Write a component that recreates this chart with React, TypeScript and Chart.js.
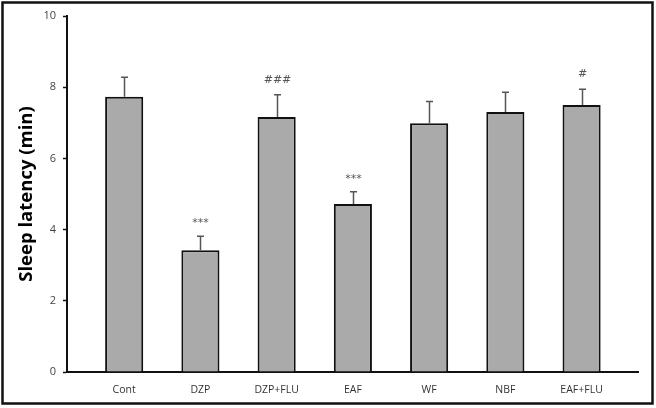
import React, { useEffect, useRef } from "react";
import { Chart, registerables } from "chart.js";

Chart.register(...registerables);

const categories = ["Cont", "DZP", "DZP+FLU", "EAF", "WF", "NBF", "EAF+FLU"];
const means = [7.73, 3.42, 7.16, 4.72, 6.99, 7.3, 7.5];
const errors = [0.55, 0.39, 0.63, 0.34, 0.61, 0.56, 0.44];
const marks = ["", "***", "###", "***", "", "", "#"];
const yTicks = [0, 2, 4, 6, 8, 10];

const errorBarsPlugin = {
  id: "errorBarsAndMarks",
  afterDatasetsDraw(chart: any) {
    const ctx = chart.ctx;
    const xs = chart.scales.x;
    const ys = chart.scales.y;
    ctx.save();
    means.forEach((m, i) => {
      const x = Math.round(xs.getPixelForValue(i)) + 0.5;
      const y0 = ys.getPixelForValue(m);
      const y1 = ys.getPixelForValue(m + errors[i]);
      ctx.strokeStyle = "#555555";
      ctx.lineWidth = 1.5;
      ctx.beginPath();
      ctx.moveTo(x, y0);
      ctx.lineTo(x, y1);
      ctx.moveTo(x - 3.5, y1);
      ctx.lineTo(x + 3.5, y1);
      ctx.stroke();
      if (marks[i]) {
        ctx.fillStyle = "#555555";
        ctx.font = "11px 'DejaVu Sans'";
        ctx.textAlign = "center";
        ctx.textBaseline = "middle";
        const isStar = marks[i].startsWith("*");
        ctx.fillText(marks[i], x, y1 - (isStar ? 13 : 15));
      }
    });
    ctx.restore();
  },
  afterDraw(chart: any) {
    const ctx = chart.ctx;
    ctx.save();
    ctx.strokeStyle = "#111111";
    ctx.lineWidth = 2.5;
    ctx.strokeRect(2.5, 2.5, 650, 401);
    ctx.restore();
  },
};

export default function App() {
  const ref = useRef<HTMLCanvasElement>(null);
  useEffect(() => {
    document.body.style.margin = "0";
    const chart = new Chart(ref.current as HTMLCanvasElement, {
      type: "bar",
      data: {
        datasets: [
          {
            data: means.map((v, i) => ({ x: i, y: v })),
            backgroundColor: "#aaaaaa",
            borderColor: "#111111",
            borderWidth: 2,
            borderSkipped: "start",
            barPercentage: 0.5,
            categoryPercentage: 1,
          },
        ],
      },
      options: {
        animation: false,
        responsive: false,
        layout: { padding: { top: 16, right: 18, left: 0, bottom: 0 } },
        plugins: { legend: { display: false }, tooltip: { enabled: false } },
        scales: {
          x: {
            type: "linear",
            offset: false,
            min: -0.75,
            max: 6.74,
            afterBuildTicks: (s: any) => {
              s.ticks = categories.map((_, i) => ({ value: i }));
            },
            afterFit: (s: any) => {
              s.height = 36;
            },
            grid: { display: false, drawTicks: false },
            border: { color: "#111111", width: 2 },
            ticks: {
              padding: 12,
              color: "#333333",
              font: { family: "'Open Sans'", size: 10.5 },
              callback: (v: any) => categories[v] ?? "",
              autoSkip: false,
              maxRotation: 0,
            },
          },
          y: {
            min: 0,
            max: 10,
            afterBuildTicks: (s: any) => {
              s.ticks = yTicks.map((v) => ({ value: v }));
            },
            afterFit: (s: any) => {
              s.width = 67;
            },
            grid: {
              drawOnChartArea: false,
              drawTicks: true,
              tickLength: 4,
              tickColor: "#111111",
              tickWidth: 1.5,
            },
            border: { color: "#111111", width: 2 },
            ticks: {
              padding: 7,
              color: "#444444",
              font: { family: "'Open Sans'", size: 11 },
            },
            title: {
              display: true,
              text: "Sleep latency (min)",
              color: "#000000",
              font: { family: "'Open Sans'", size: 18.5, weight: "bold" },
              padding: { top: 16, bottom: 0 },
            },
          },
        },
      },
      plugins: [errorBarsPlugin],
    } as any);
    return () => chart.destroy();
  }, []);
  return (
    <div style={{ width: 656, height: 408 }}>
      <canvas ref={ref} width={656} height={408} style={{ display: "block" }} />
    </div>
  );
}
